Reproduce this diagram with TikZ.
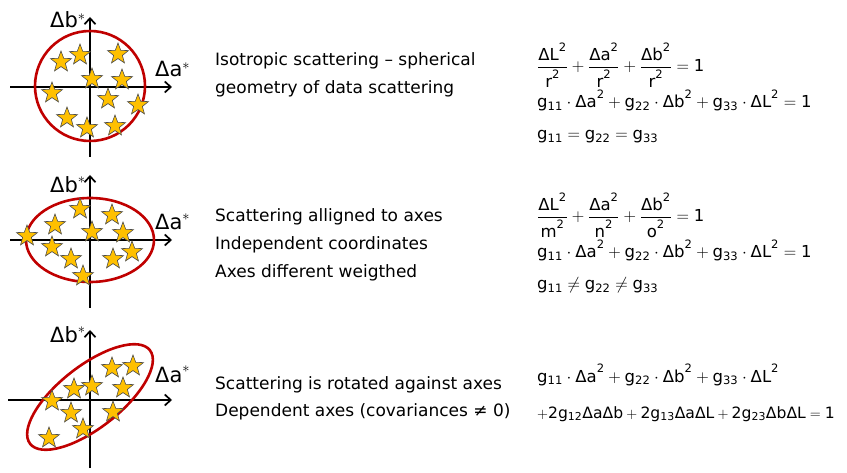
\documentclass[tikz,border=0pt]{standalone}
\usepackage{amsmath}
\usepackage{fontspec}
\setmainfont{DejaVu Sans}
\usetikzlibrary{arrows.meta,shapes.geometric}
\definecolor{ringred}{RGB}{192,0,0}
\definecolor{stargold}{RGB}{255,192,0}
\newcommand{\dl}{\text{Δ}}

\begin{document}
\begin{tikzpicture}[
    x=1pt, y=-1pt,
    axis/.style={line width=1.7pt, -{Straight Barb[length=6pt,width=11pt,line width=1.7pt]}},
    ring/.style={draw=ringred, line width=2.6pt},
    starmark/.style={star, star points=5, star point ratio=2.4, minimum size=22pt,
      inner sep=0pt, fill=stargold, draw=black!70, line width=0.6pt},
    axlabel/.style={anchor=base west, inner sep=0pt, font=\fontsize{21}{21}\selectfont},
    caption/.style={anchor=base west, inner sep=0pt, font=\fontsize{17}{28}\selectfont},
    formula/.style={anchor=base west, inner sep=0pt, font=\fontsize{16.5}{18}\selectfont}
  ]
  \useasboundingbox (0,0) rectangle (847,473);

  % isotropic scattering
  \coordinate (w1) at (10,87);
  \coordinate (e1) at (172,87);
  \coordinate (s1) at (90,157);
  \coordinate (n1) at (90,17);
  \coordinate (c1) at (90,86);
  \draw[axis] (w1) -- (e1);
  \draw[axis] (s1) -- (n1);
  \draw[ring] (c1) circle[radius=55];
  \foreach \sx/\sy [count=\i] in {61/62,80/55,118/54,92/79,122/80,52/93,
      108/99,138/105,67/118,87/128,115/126}
    \node[starmark] (sa\i) at (\sx,\sy) {};
  \node[axlabel] (b1) at (50,28) {Δb$^{*}$};
  \node[axlabel] (a1) at (155,77) {Δa$^{*}$};
  \node[caption] (t1a) at (215,66) {Isotropic scattering – spherical};
  \node[caption] (t1b) at (215,94) {geometry of data scattering};
  \node[formula] (f1a) at (537,72)
    {$\rm \dfrac{\dl L^2}{r^2}+\dfrac{\dl a^2}{r^2}+\dfrac{\dl b^2}{r^2}=1$};
  \node[formula] (f1b) at (537,108)
    {$\rm g_{11}\cdot\dl a^2+g_{22}\cdot\dl b^2+g_{33}\cdot\dl L^2=1$};
  \node[formula] (f1c) at (537,140) {$\rm g_{11}=g_{22}=g_{33}$};

  % scattering aligned to axes
  \coordinate (w2) at (10,240);
  \coordinate (e2) at (172,240);
  \coordinate (s2) at (90,308);
  \coordinate (n2) at (90,175);
  \coordinate (c2) at (90,240);
  \draw[axis] (w2) -- (e2);
  \draw[axis] (s2) -- (n2);
  \draw[ring] (c2) ellipse[x radius=64, y radius=42];
  \foreach \sx/\sy [count=\i] in {27/236,80/209,112/215,55/225,92/232,123/233,
      52/247,132/252,71/259,113/259,83/276}
    \node[starmark] (sb\i) at (\sx,\sy) {};
  \node[axlabel] (b2) at (50,193) {Δb$^{*}$};
  \node[axlabel] (a2) at (155,230) {Δa$^{*}$};
  \node[caption] (t2a) at (215,222) {Scattering alligned to axes};
  \node[caption] (t2b) at (215,250) {Independent coordinates};
  \node[caption] (t2c) at (215,278) {Axes different weigthed};
  \node[formula] (f2a) at (537,222)
    {$\rm \dfrac{\dl L^2}{m^2}+\dfrac{\dl a^2}{n^2}+\dfrac{\dl b^2}{o^2}=1$};
  \node[formula] (f2b) at (537,258)
    {$\rm g_{11}\cdot\dl a^2+g_{22}\cdot\dl b^2+g_{33}\cdot\dl L^2=1$};
  \node[formula] (f2c) at (537,290) {$\rm g_{11}\neq g_{22}\neq g_{33}$};

  % rotated scattering
  \coordinate (w3) at (8,400);
  \coordinate (e3) at (172,400);
  \coordinate (s3) at (90,468);
  \coordinate (n3) at (90,330);
  \draw[axis] (w3) -- (e3);
  \draw[axis] (s3) -- (n3);
  \begin{scope}[shift={(90,397)}, rotate=38]
    \draw[ring] (0,0) ellipse[x radius=76, y radius=31];
  \end{scope}
  \foreach \sx/\sy [count=\i] in {112/368,133/366,74/389,92/386,123/388,
      52/401,71/413,113/412,83/429,49/438}
    \node[starmark] (sc\i) at (\sx,\sy) {};
  \node[axlabel] (b3) at (50,343) {Δb$^{*}$};
  \node[axlabel] (a3) at (155,382) {Δa$^{*}$};
  \node[caption] (t3a) at (215,389) {Scattering is rotated against axes};
  \node[caption] (t3b) at (215,417) {Dependent axes (covariances ≠ 0)};
  \node[formula] (f3a) at (537,382)
    {$\rm g_{11}\cdot\dl a^2+g_{22}\cdot\dl b^2+g_{33}\cdot\dl L^2$};
  \node[formula, font=\fontsize{15.6}{18}\selectfont] (f3b) at (537,418)
    {$\rm +2g_{12}\dl a\dl b+2g_{13}\dl a\dl L+2g_{23}\dl b\dl L=1$};
\end{tikzpicture}
\end{document}
